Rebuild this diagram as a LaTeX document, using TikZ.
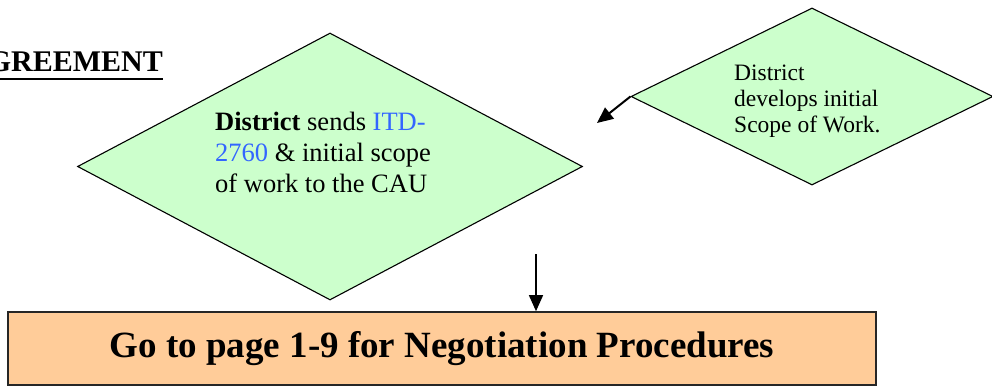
\documentclass[tikz,border=0pt]{standalone}
\usepackage{fontspec}
\setmainfont{Liberation Serif}
\usetikzlibrary{shapes.geometric,arrows.meta}
\definecolor{dgreen}{RGB}{204,255,204}
\definecolor{tanbox}{RGB}{255,204,153}
\definecolor{linkblue}{RGB}{51,102,255}
\tikzset{
  decision/.style={diamond,draw=black,fill=dgreen,line width=1.1pt,inner sep=0pt},
  gobox/.style={rectangle,draw=black!85,fill=tanbox,line width=1.6pt,inner sep=0pt},
  txt/.style={inner sep=0pt,align=left},
  flow/.style={draw=black,line width=1.4pt,-{Triangle[length=16pt,width=14pt]}}
}
\begin{document}
\begin{tikzpicture}[x=1pt,y=-1pt]
\path[use as bounding box,clip] (0,0) rectangle (992,387);
% heading (cut at the left edge)
\node[inner sep=0pt,anchor=base east,font=\fontsize{30}{34}\selectfont\bfseries] (head) at (163,72) {GREEMENT};
\draw[line width=2pt] ([yshift=-7pt]head.base west) -- ([yshift=-7pt]head.base east);
% big diamond
\node[decision,minimum width=505pt,minimum height=267pt] (dsend) at (330,166.5) {};
\node[txt,anchor=north west,font=\fontsize{26.5}{31}\selectfont] (tsend) at (215,112)
  {\textbf{District} sends \textcolor{linkblue}{ITD-}\\\textcolor{linkblue}{2760} \& initial scope\\of work to the CAU};
% small diamond
\node[decision,minimum width=362pt,minimum height=177pt] (ddev) at (812,96.5) {};
\node[txt,anchor=north west,font=\fontsize{23.5}{26}\selectfont] (tdev) at (734,65)
  {District\\develops initial\\Scope of Work.};
% bottom box
\node[gobox,minimum width=868pt,minimum height=73pt,font=\fontsize{37}{40}\selectfont\bfseries] (go) at (442,348.5)
  {Go to page 1-9 for Negotiation Procedures};
% connectors
\coordinate (aend) at (597,123);
\draw[flow,line width=2pt] (ddev.west) -- (aend);
\coordinate (vstart) at (536,254);
\draw[flow] (vstart) -- (vstart |- go.north);
\end{tikzpicture}
\end{document}
